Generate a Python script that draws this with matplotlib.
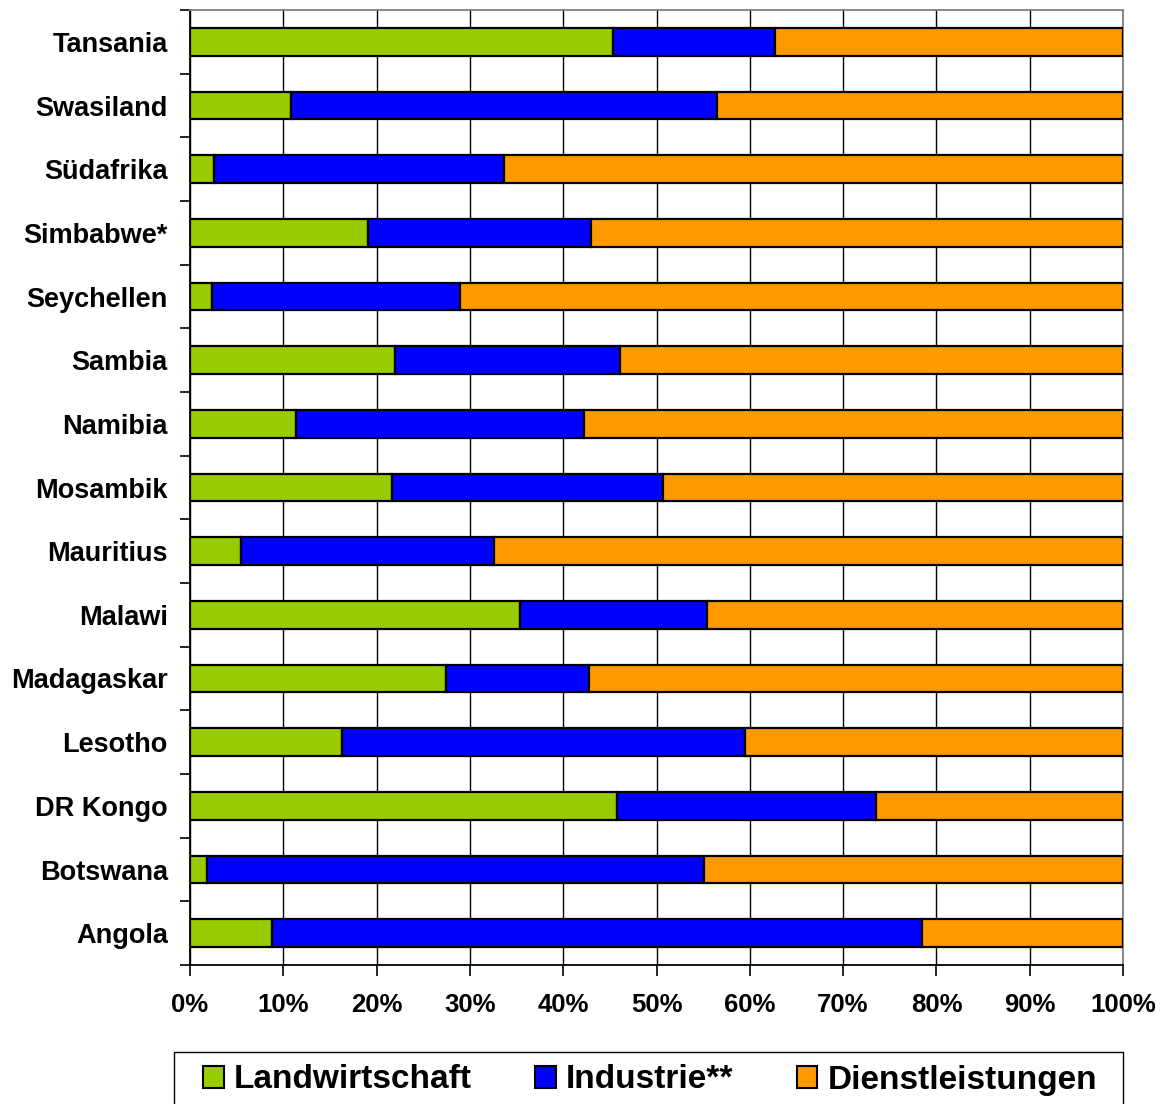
import matplotlib
matplotlib.use("Agg")
import matplotlib.pyplot as plt
from matplotlib.patches import Rectangle
import numpy as np

plt.rcParams['font.family'] = ['Liberation Sans', 'DejaVu Sans']
plt.rcParams['font.weight'] = 'bold'

countries = ["Angola", "Botswana", "DR Kongo", "Lesotho", "Madagaskar", "Malawi",
             "Mauritius", "Mosambik", "Namibia", "Sambia", "Seychellen",
             "Simbabwe*", "Südafrika", "Swasiland", "Tansania"]
# shares in percent
landwirtschaft = [8.8, 1.8, 45.8, 16.3, 27.4, 35.4, 5.5, 21.7, 11.4, 22.0, 2.4, 19.1, 2.6, 10.8, 45.3]
industrie = [69.7, 53.3, 27.7, 43.2, 15.4, 20.0, 27.1, 29.0, 30.8, 24.1, 26.5, 23.9, 31.1, 45.7, 17.4]
dienstleistungen = [100 - a - b for a, b in zip(landwirtschaft, industrie)]

colors = ["#99CC00", "#0000FF", "#FF9900"]
labels = ["Landwirtschaft", "Industrie**", "Dienstleistungen"]

W, H = 1174, 1104
fig = plt.figure(figsize=(W/100, H/100), dpi=100)
ax = fig.add_axes([190/W, 1-965/H, (1123-190)/W, (965-10)/H])

y = np.arange(len(countries))
left = np.zeros(len(countries))
for vals, c, lab in zip([landwirtschaft, industrie, dienstleistungen], colors, labels):
    ax.barh(y, vals, left=left, height=0.43, color=c, edgecolor="black",
            linewidth=1.6, label=lab, zorder=3)
    left += np.array(vals)

ax.set_xlim(0, 100)
ax.set_ylim(-0.5, len(countries) - 0.5)
ax.set_xticks(np.arange(0, 101, 10))
ax.set_xticklabels([f"{v}%" for v in range(0, 101, 10)], fontsize=18.5, fontweight="bold")
ax.xaxis.grid(True, color="black", linewidth=1.0, zorder=0)

ax.set_yticks(np.arange(-0.5, len(countries), 1.0))
ax.set_yticklabels([])
ax.set_yticks(y, minor=True)
ax.set_yticklabels(countries, minor=True, fontsize=19.5, fontweight="bold")
ax.tick_params(axis="y", which="minor", length=0, pad=16)
ax.tick_params(axis="y", which="major", length=7, width=1.2, direction="out")
ax.tick_params(axis="x", length=8, width=1.2, direction="out", pad=12)

for s in ["left", "bottom"]:
    ax.spines[s].set_color("black")
    ax.spines[s].set_linewidth(1.3)
for s in ["top", "right"]:
    ax.spines[s].set_color("#808080")
    ax.spines[s].set_linewidth(1.3)

# legend frame runs off the bottom edge like in the original
frame = Rectangle((174/W, -0.02), (1123-174)/W, 1-1052/H + 0.02,
                  transform=fig.transFigure, facecolor="white",
                  edgecolor="black", linewidth=1.0, clip_on=False)
fig.patches.append(frame)

handles, labs = ax.get_legend_handles_labels()
leg = fig.legend(handles, labs, loc="center",
                 bbox_to_anchor=(650/W, 1-1080/H),
                 ncol=3, fontsize=24, frameon=False,
                 handlelength=0.62, handleheight=0.62, handletextpad=0.3,
                 columnspacing=1.9, borderaxespad=0, borderpad=0)
for h in leg.legend_handles:
    h.set_linewidth(1.5)

fig.savefig("out.png", dpi=100)
